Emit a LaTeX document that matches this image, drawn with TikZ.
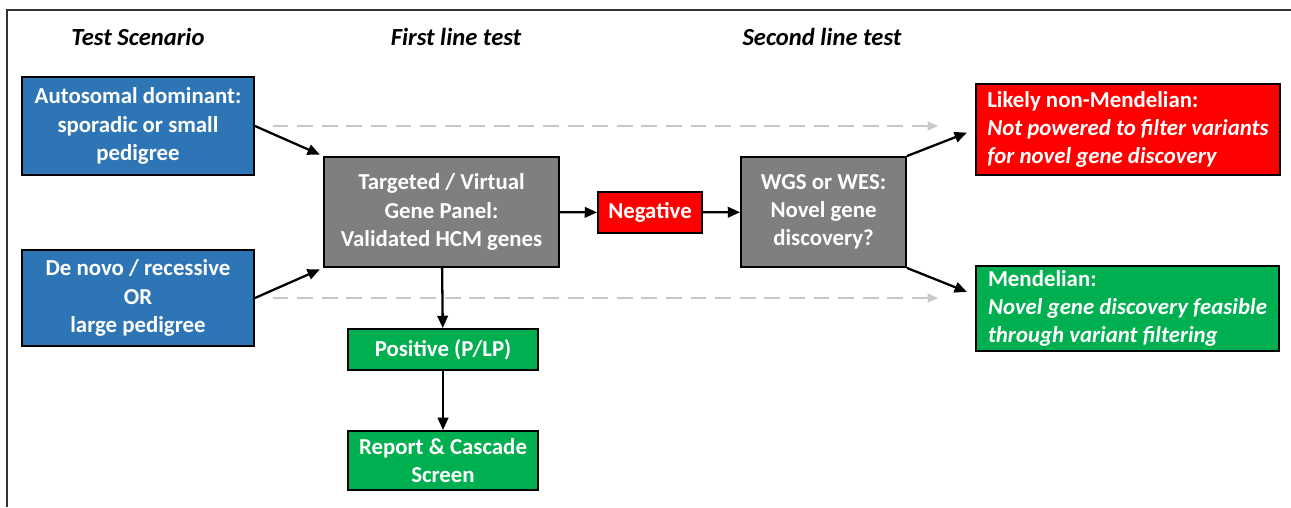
\documentclass[tikz,border=0pt]{standalone}
\usepackage{fontspec}
\setmainfont{Carlito}
\usetikzlibrary{arrows.meta}

\definecolor{scblue}{HTML}{2E75B6}
\definecolor{scgray}{HTML}{7F7F7F}
\definecolor{scred}{HTML}{FF0000}
\definecolor{scgreen}{HTML}{00B050}
\definecolor{scdash}{HTML}{C8C8C8}

\begin{document}
\begin{tikzpicture}[x=0.02cm, y=-0.02cm,
  box/.style={draw=black, line width=1.1pt, text=white, align=center, inner sep=2pt,
    font=\fontsize{13}{16}\selectfont\bfseries},
  head/.style={font=\fontsize{14}{17}\selectfont\bfseries\itshape},
  conn/.style={line width=1.3pt, -{Triangle[length=7pt,width=6pt]}},
  ghost/.style={draw=scdash, line width=1.1pt, dash pattern=on 9pt off 5pt,
    -{Triangle[length=6pt,width=5pt]}}]

\useasboundingbox (0,0) rectangle (1291,507);

% frame
\draw [line width=1.1pt, black!80] (7,507) -- (7,10) -- (1291,10);

\node [head] (hts) at (138,37) {Test Scenario};
\node [head] (hfl) at (456,37) {First line test};
\node [head] (hsl) at (822,37) {Second line test};

\node [box, fill=scblue, minimum width=4.64cm, minimum height=1.96cm] (tsad) at (138,126)
  {Autosomal dominant:\\ sporadic or small\\ pedigree};
\node [box, fill=scblue, minimum width=4.64cm, minimum height=1.92cm] (tsdn) at (138,298)
  {De novo / recessive\\ OR\\ large pedigree};

\node [box, fill=scgray, minimum width=4.7cm, minimum height=2.2cm] (ftp) at (441.5,212)
  {Targeted / Virtual\\ Gene Panel:\\ Validated HCM genes};
\node [box, fill=scred, minimum width=2.08cm, minimum height=0.82cm] (fneg) at (650,212.5) {Negative};
\node [box, fill=scgreen, minimum width=3.8cm, minimum height=0.82cm] (fpos) at (443,349.5) {Positive (P/LP)};
\node [box, fill=scgreen, minimum width=3.8cm, minimum height=1.18cm] (frep) at (443,460.5)
  {Report \& Cascade\\ Screen};

\node [box, fill=scgray, minimum width=3.3cm, minimum height=2.2cm] (swgs) at (823.5,212)
  {WGS or WES:\\ Novel gene\\ discovery?};
\node [box, fill=scred, align=left, minimum width=6.08cm, minimum height=1.82cm] (snm) at (1128,129.5)
  {Likely non-Mendelian:\\ \textit{Not powered to filter variants}\\ \textit{for novel gene discovery}};
\node [box, fill=scgreen, align=left, minimum width=6.06cm, minimum height=1.7cm] (sm) at (1127.5,308.5)
  {Mendelian:\\ \textit{Novel gene discovery feasible}\\ \textit{through variant filtering}};

% skipped first line
\draw [ghost, shorten <=10pt, shorten >=21pt] (tsad.east) -- (tsad.east -| snm.west);
\draw [ghost, shorten <=10pt, shorten >=21pt] (tsdn.east) -- (tsdn.east -| sm.west);

\draw [conn, shorten >=2pt] (tsad.east) -- (ftp.north west);
\draw [conn, shorten >=2pt] (tsdn.east) -- (ftp.south west);
\draw [conn] (ftp) -- (fneg);
\draw [conn] (fneg) -- (swgs);
\draw [conn] (ftp) -- (fpos);
\draw [conn] (fpos) -- (frep);
\draw [conn, shorten >=5pt] (swgs.north east) -- (snm.west);
\draw [conn, shorten >=5pt] (swgs.south east) -- (sm.175);
\end{tikzpicture}
\end{document}
